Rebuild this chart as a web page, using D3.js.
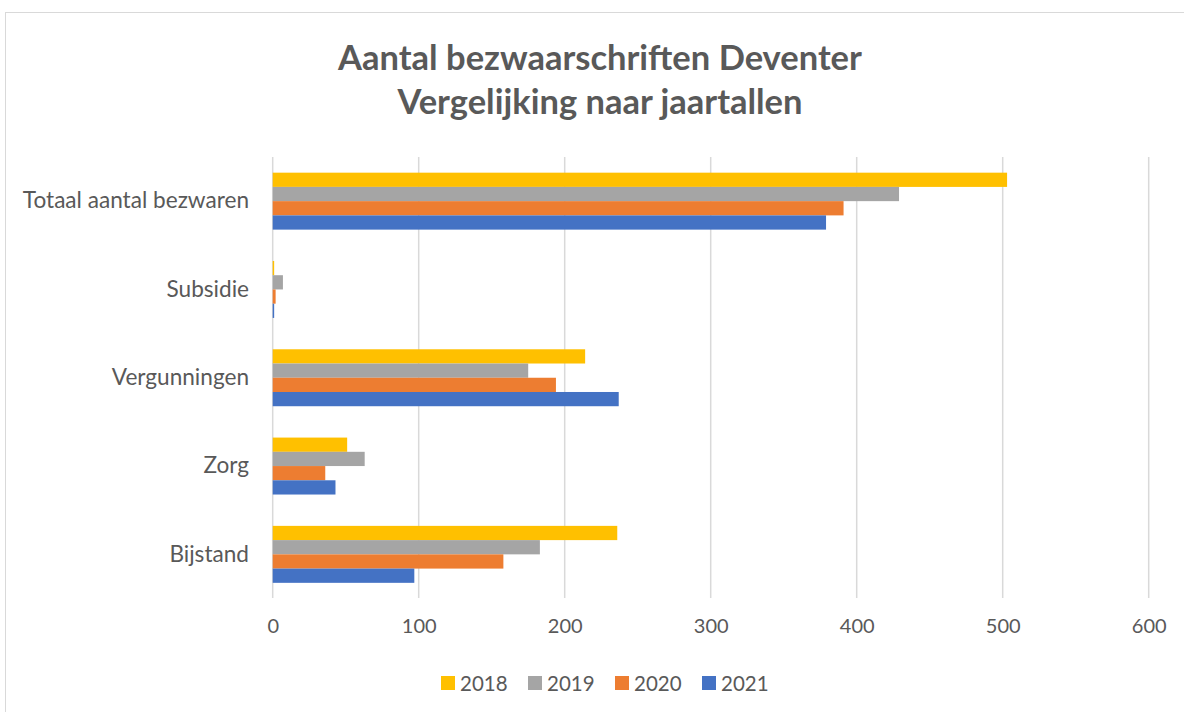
<!DOCTYPE html>
<html>
<head>
<meta charset="utf-8">
<script src="https://cdn.jsdelivr.net/npm/d3@7"></script>
<style>
  body { margin: 0; background: #fff; }
  svg { display: block; }
  text { font-family: Lato, "Open Sans", sans-serif; fill: #595959; }
</style>
</head>
<body>
<svg width="1184" height="712"></svg>
<script>
// categories top to bottom
const categories = ["Totaal aantal bezwaren", "Subsidie", "Vergunningen", "Zorg", "Bijstand"];
const years = ["2018", "2019", "2020", "2021"];
const colors = ["#FFC000", "#A5A5A5", "#ED7D31", "#4472C4"];

// values per year, same order as categories
const v2018 = [503, 1, 214, 51, 236];
const v2019 = [429, 7, 175, 63, 183];
const v2020 = [391, 2, 194, 36, 158];
const v2021 = [379, 1, 237, 43, 97];

const xTicks = [0, 100, 200, 300, 400, 500, 600];

const series = [v2018, v2019, v2020, v2021];
const rows = categories.map((c, i) => ({
  cat: c,
  vals: years.map((y, j) => ({ year: y, value: series[j][i], color: colors[j] }))
}));

const svg = d3.select("svg");

// chart frame
svg.append("rect")
  .attr("x", 5.5).attr("y", 12.5)
  .attr("width", 1200).attr("height", 720)
  .attr("fill", "none")
  .attr("stroke", "#d9d9d9");

// title
const title = svg.append("text")
  .attr("text-anchor", "middle")
  .attr("font-weight", "bold")
  .attr("font-size", 34.5);
title.append("tspan").attr("x", 600).attr("y", 70).text("Aantal bezwaarschriften Deventer");
title.append("tspan").attr("x", 600).attr("y", 114).text("Vergelijking naar jaartallen");

const x = d3.scaleLinear().domain([0, 600]).range([272.7, 1148.7]);
const y = d3.scaleBand().domain(categories).range([157, 598.5])
  .paddingInner(0.355).paddingOuter(0.1775);
const yInner = d3.scaleBand().domain(years).range([0, y.bandwidth()]);

// gridlines
svg.append("g")
  .selectAll("line")
  .data(xTicks)
  .enter()
  .append("line")
  .attr("x1", d => x(d)).attr("x2", d => x(d))
  .attr("y1", 157).attr("y2", 598)
  .attr("stroke", "#d9d9d9")
  .attr("stroke-width", 1.5);

// bars
const groups = svg.append("g")
  .selectAll(".grp")
  .data(rows)
  .enter()
  .append("g")
  .attr("class", "grp")
  .attr("transform", d => "translate(0," + y(d.cat) + ")");

groups.selectAll("rect")
  .data(d => d.vals)
  .enter()
  .append("rect")
  .attr("x", x(0))
  .attr("y", d => yInner(d.year))
  .attr("width", d => x(d.value) - x(0))
  .attr("height", yInner.bandwidth())
  .attr("fill", d => d.color);

// x axis labels
const xAxis = d3.axisBottom(x).tickValues(xTicks).tickSize(0).tickPadding(0);
const gx = svg.append("g")
  .attr("transform", "translate(0,619)")
  .call(xAxis);
gx.select(".domain").remove();
gx.selectAll("text")
  .attr("font-size", 20)
  .attr("fill", "#595959")
  .attr("dy", "0.71em")
  .style("font-family", "Lato, 'Open Sans', sans-serif");

// category labels
const yAxis = d3.axisLeft(y).tickSize(0).tickPadding(0);
const gy = svg.append("g")
  .attr("transform", "translate(249,0)")
  .call(yAxis);
gy.select(".domain").remove();
gy.selectAll("text")
  .attr("font-size", 22.6)
  .attr("fill", "#595959")
  .style("font-family", "Lato, 'Open Sans', sans-serif");

// legend
const legendX = [441, 528, 615, 702];
const legend = svg.append("g")
  .selectAll("g")
  .data(years)
  .enter()
  .append("g")
  .attr("transform", (d, i) => "translate(" + legendX[i] + ",676)");
legend.append("rect")
  .attr("width", 14).attr("height", 14)
  .attr("fill", (d, i) => colors[i]);
legend.append("text")
  .attr("x", 19).attr("y", 14.5)
  .attr("font-size", 20.5)
  .text(d => d);
</script>
</body>
</html>
